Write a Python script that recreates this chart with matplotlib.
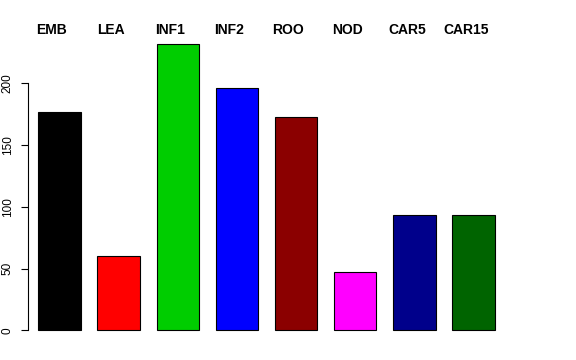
import matplotlib
matplotlib.use("Agg")
import matplotlib.pyplot as plt

# datos
etiquetas = ["EMB", "LEA", "INF1", "INF2", "ROO", "NOD", "CAR5", "CAR15"]
valores = [177, 60, 232, 196, 173, 47, 93, 93]
colores = ["#000000", "#FF0000", "#00CD00", "#0000FF",
           "#8B0000", "#FF00FF", "#00008B", "#006400"]
marcas_y = [0, 50, 100, 150, 200]

plt.rcParams["font.family"] = ["Liberation Sans", "DejaVu Sans"]

fig = plt.figure(figsize=(5.76, 3.6), dpi=100)
W, H = 576, 360
# ejes colocados en pixeles (estilo barplot de R)
izq, der = 28, 513.6
abajo, arriba = 360 - 341.8, 360 - 32.3
ax = fig.add_axes([izq / W, abajo / H, (der - izq) / W, (arriba - abajo) / H])

espacio = 0.4
posiciones = [espacio + 0.5 + i * (1 + espacio) for i in range(len(valores))]
ax.bar(posiciones, valores, width=1, color=colores,
       edgecolor="black", linewidth=0.8)

ax.set_xlim(0.156, 11.648)
ax.set_ylim(-9.3, 241.3)

for s in ["top", "right", "bottom"]:
    ax.spines[s].set_visible(False)
ax.spines["left"].set_bounds(0, 200)
ax.spines["left"].set_linewidth(0.8)
ax.set_xticks([])
ax.set_yticks(marcas_y)
ax.set_yticklabels([str(m) for m in marcas_y], rotation=90, va="center",
                   fontsize=8.5)
ax.tick_params(axis="y", length=4.8, width=0.8, pad=5.5)

for p, e in zip(posiciones, etiquetas):
    ax.text(p - 0.18, 243, e, ha="center", va="center", fontsize=10,
            fontweight="bold", clip_on=False)

fig.savefig("out.png", dpi=100)
